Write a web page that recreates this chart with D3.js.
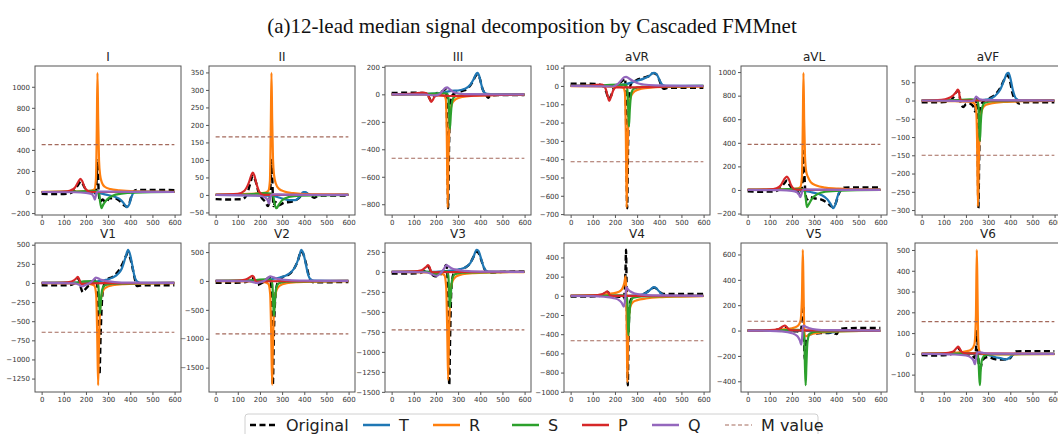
<!DOCTYPE html>
<html><head><meta charset="utf-8">
<script src="https://cdn.jsdelivr.net/npm/d3@7"></script>
<style>body{margin:0;background:#fff}svg{display:block}</style>
</head><body><svg id="c" width="1058" height="434"></svg>
<script>
const chartTitle = "(a)12-lead median signal decomposition by Cascaded FMMnet";
const leads = ["I","II","III","aVR","aVL","aVF","V1","V2","V3","V4","V5","V6"];
const xTicks = [0,100,200,300,400,500,600];
const yTickStep = [200,50,200,100,200,50,250,500,250,200,200,100];
const mValues = [450,166,-465,-414,387,-150,-645,-916,-725,-468,74,155];
const legendNames = ["Original","T","R","S","P","Q","M value"];

const originalPts = [
 [[0,-18],[60,-20],[120,-15],[150,20],[165,70],[178,100],[192,50],[205,5],[225,0],[238,-30],[246,30],[252,300],[258,-20],[265,-90],[275,-70],[290,-100],[305,-60],[330,-60],[355,-90],[375,-130],[385,-140],[395,-110],[405,-40],[415,5],[430,20],[500,20],[599,18]],
 [[0,-12],[60,-13],[120,-12],[140,0],[155,30],[168,55],[180,40],[195,5],[210,-10],[225,-20],[236,-32],[244,-10],[250,60],[253,100],[257,20],[261,-32],[270,-20],[280,-30],[292,-28],[310,-22],[340,-20],[370,-12],[390,0],[405,5],[425,0],[445,-8],[455,-5],[480,-2],[599,-2]],
 [[0,10],[80,12],[130,10],[150,8],[165,-10],[178,-45],[188,-30],[200,5],[220,15],[238,30],[246,35],[251,-300],[255,-829],[259,-400],[264,-80],[272,-10],[290,10],[320,25],[345,45],[365,90],[380,135],[388,145],[398,115],[410,40],[425,0],[435,-25],[445,-10],[480,-5],[599,-5]],
 [[0,12],[60,12],[120,10],[145,0],[160,-30],[172,-70],[182,-55],[195,-10],[215,10],[235,30],[246,40],[251,-250],[255,-668],[259,-350],[264,-60],[272,10],[295,30],[330,45],[355,55],[372,70],[385,65],[398,40],[410,0],[420,-15],[440,-10],[500,-10],[599,-10]],
 [[0,-12],[60,-15],[120,-12],[145,10],[165,55],[178,80],[190,40],[205,5],[222,-5],[236,-40],[244,-10],[249,150],[252,330],[256,150],[261,-30],[268,-80],[280,-60],[300,-70],[330,-80],[360,-110],[378,-140],[388,-145],[398,-110],[410,-40],[422,5],[435,20],[500,22],[599,20]],
 [[0,-5],[60,-5],[120,-3],[145,10],[160,25],[168,25],[176,-5],[188,-18],[200,-10],[215,-8],[232,-15],[242,-30],[248,5],[252,-60],[256,-295],[260,-150],[265,-20],[275,-5],[300,5],[330,15],[355,35],[375,60],[388,70],[398,55],[410,20],[425,0],[440,-8],[455,-5],[500,-5],[599,-5]],
 [[0,-30],[60,-32],[120,-30],[150,0],[163,60],[170,30],[178,-70],[186,-120],[195,-90],[210,-40],[230,-10],[244,50],[250,20],[256,-600],[261,-1200],[266,-700],[272,-250],[280,-40],[295,40],[320,80],[345,150],[365,250],[380,350],[390,390],[398,340],[410,200],[420,60],[430,-40],[445,-35],[500,-30],[599,-30]],
 [[0,-30],[60,-32],[120,-28],[150,5],[163,55],[170,40],[180,-30],[190,-70],[200,-50],[220,-10],[240,60],[248,40],[254,-700],[258,-1805],[263,-900],[270,-250],[280,-30],[300,60],[330,110],[355,220],[372,360],[385,510],[395,470],[408,300],[420,100],[432,-10],[445,-25],[500,-22],[599,-20]],
 [[0,-20],[60,-22],[120,-18],[148,10],[163,65],[170,50],[180,-20],[195,-55],[210,-50],[228,-10],[240,60],[246,85],[251,0],[256,-700],[260,-1417],[264,-800],[270,-200],[280,-20],[300,20],[330,50],[355,110],[372,200],[385,255],[395,220],[408,120],[420,30],[432,-5],[450,-8],[500,0],[599,5]],
 [[0,-7],[60,-8],[120,-5],[150,20],[163,46],[170,35],[180,0],[200,-5],[225,-10],[238,-30],[244,50],[248,300],[250,480],[252,200],[255,-400],[258,-932],[261,-500],[265,-150],[272,-40],[290,-5],[320,10],[345,40],[365,75],[378,85],[390,70],[405,35],[420,20],[450,20],[500,20],[599,20]],
 [[0,0],[60,0],[120,3],[150,15],[165,30],[175,25],[190,0],[210,-5],[225,-5],[238,-20],[244,40],[248,120],[251,200],[254,0],[258,-230],[262,-150],[268,-60],[280,-30],[300,-25],[330,-20],[360,-20],[385,-15],[395,-25],[402,-28],[410,0],[425,15],[450,18],[500,20],[599,20]],
 [[0,-6],[60,-8],[120,-5],[148,10],[163,28],[172,20],[185,0],[205,-3],[228,-8],[240,-20],[246,30],[250,110],[254,20],[259,-60],[265,-70],[272,-40],[285,-20],[300,-15],[330,-25],[360,-28],[385,-25],[398,-22],[410,-5],[425,12],[450,13],[500,13],[599,13]]
];
const tPts = [
 [[0,0],[200,0],[250,-5],[290,-25],[330,-45],[360,-80],[375,-120],[385,-145],[395,-120],[405,-50],[415,-5],[430,5],[480,3],[599,0]],
 [[0,0],[250,-2],[290,-8],[330,-15],[360,-15],[380,-5],[395,8],[405,8],[420,2],[440,0],[599,0]],
 [[0,0],[200,5],[240,15],[270,25],[300,28],[330,40],[355,70],[370,110],[382,150],[388,157],[396,130],[405,70],[415,20],[430,3],[460,0],[599,0]],
 [[0,0],[200,3],[250,10],[290,25],[330,40],[355,55],[370,70],[378,72],[390,60],[402,30],[415,5],[430,0],[599,0]],
 [[0,0],[200,0],[250,-5],[290,-20],[330,-40],[360,-80],[375,-120],[386,-155],[396,-125],[406,-55],[416,-8],[430,3],[480,2],[599,0]],
 [[0,0],[250,0],[300,3],[330,12],[355,30],[372,55],[385,74],[392,76],[400,62],[412,28],[425,6],[445,0],[599,0]],
 [[0,0],[200,5],[250,20],[290,40],[320,70],[345,120],[362,190],[378,330],[390,434],[398,385],[408,250],[418,100],[430,20],[445,2],[599,0]],
 [[0,0],[200,5],[250,30],[290,60],[320,100],[345,170],[362,270],[375,400],[387,540],[395,490],[405,330],[416,130],[428,30],[445,5],[599,0]],
 [[0,0],[200,0],[240,10],[280,20],[310,35],[335,60],[355,110],[370,190],[383,276],[392,262],[402,180],[414,70],[426,15],[445,2],[599,0]],
 [[0,0],[250,0],[300,5],[330,20],[350,45],[365,75],[375,91],[385,82],[398,50],[412,18],[428,3],[450,0],[599,0]],
 [[0,0],[250,0],[300,-5],[340,-12],[370,-15],[390,-12],[400,-8],[410,-3],[430,0],[599,0]],
 [[0,0],[250,0],[300,-5],[330,-15],[360,-22],[380,-27],[395,-20],[408,-8],[420,0],[599,0]]
];
const rPts = [
 [[0,2],[150,5],[220,12],[238,25],[245,120],[249,600],[252,1133],[255,700],[259,300],[264,160],[272,90],[285,50],[310,28],[350,15],[420,6],[599,2]],
 [[0,1],[150,3],[220,6],[238,12],[245,40],[249,200],[252,349],[255,220],[259,100],[264,55],[272,32],[285,18],[310,10],[350,5],[420,2],[599,1]],
 [[0,-1],[150,-3],[220,-6],[238,-12],[245,-40],[249,-300],[253,-825],[256,-500],[260,-250],[266,-110],[275,-60],[290,-35],[320,-18],[370,-10],[450,-5],[599,-2]],
 [[0,-1],[150,-3],[220,-5],[238,-10],[245,-35],[249,-250],[253,-665],[256,-420],[260,-200],[266,-90],[275,-50],[290,-28],[320,-15],[370,-8],[450,-4],[599,-2]],
 [[0,2],[150,5],[220,12],[238,25],[245,110],[249,550],[252,994],[255,600],[259,280],[264,160],[272,110],[285,65],[310,38],[350,20],[400,12],[450,6],[599,2]],
 [[0,-1],[150,-2],[220,-4],[238,-8],[246,-25],[250,-100],[254,-290],[257,-200],[261,-90],[267,-40],[275,-22],[290,-12],[320,-7],[370,-4],[450,-2],[599,-1]],
 [[0,-2],[150,-5],[220,-15],[238,-35],[246,-150],[251,-700],[255,-1337],[258,-900],[262,-450],[268,-200],[276,-110],[290,-60],[320,-30],[370,-15],[450,-8],[599,-3]],
 [[0,-3],[150,-8],[220,-20],[238,-50],[246,-220],[251,-950],[255,-1800],[258,-1200],[262,-600],[268,-280],[276,-150],[290,-80],[320,-40],[370,-20],[450,-10],[599,-4]],
 [[0,-2],[150,-6],[220,-18],[238,-40],[246,-180],[251,-750],[255,-1350],[258,-950],[262,-450],[268,-200],[276,-110],[290,-60],[320,-30],[370,-15],[450,-8],[599,-3]],
 [[0,2],[100,5],[150,12],[190,25],[215,40],[232,70],[242,130],[248,203],[251,50],[254,-500],[256,-900],[259,-500],[263,-220],[270,-110],[282,-65],[300,-45],[340,-28],[400,-15],[500,-8],[599,-4]],
 [[0,1],[100,3],[150,8],[200,18],[225,35],[238,70],[245,250],[249,637],[252,350],[255,50],[259,-40],[265,-45],[275,-35],[295,-25],[330,-15],[380,-8],[450,-4],[599,-2]],
 [[0,1],[100,2],[150,5],[200,12],[225,22],[238,45],[245,180],[249,501],[252,300],[255,80],[259,20],[266,5],[280,0],[300,-2],[350,-3],[450,-2],[599,-1]]
];
const sPts = [
 [[0,0],[150,3],[220,10],[250,8],[258,0],[263,-80],[270,-154],[278,-120],[295,-70],[320,-35],[360,-15],[420,-5],[599,0]],
 [[0,0],[150,2],[220,5],[255,3],[262,-10],[268,-30],[275,-38],[285,-28],[300,-15],[330,-6],[380,-2],[599,0]],
 [[0,0],[150,3],[220,8],[250,6],[256,-20],[260,-150],[263,-250],[267,-150],[273,-50],[285,-15],[320,-5],[599,0]],
 [[0,0],[150,3],[220,8],[250,6],[256,-20],[260,-130],[263,-222],[267,-130],[273,-45],[285,-15],[320,-5],[599,0]],
 [[0,0],[150,3],[220,10],[250,8],[257,0],[262,-70],[268,-145],[275,-125],[290,-75],[315,-35],[350,-15],[420,-5],[599,0]],
 [[0,0],[150,1],[220,3],[252,2],[257,-20],[260,-70],[263,-110],[267,-60],[273,-20],[285,-6],[320,-2],[599,0]],
 [[0,0],[150,5],[190,20],[225,25],[250,15],[256,-40],[260,-250],[263,-400],[267,-250],[273,-90],[285,-30],[320,-10],[599,0]],
 [[0,0],[150,5],[190,20],[225,30],[250,20],[256,-60],[260,-380],[263,-600],[267,-380],[273,-130],[285,-40],[320,-12],[599,0]],
 [[0,0],[150,3],[180,-10],[200,-30],[220,-10],[250,5],[256,-50],[260,-300],[263,-445],[267,-280],[273,-100],[285,-30],[320,-10],[599,0]],
 [[0,0],[150,2],[220,5],[252,3],[256,-60],[259,-300],[261,-410],[264,-250],[270,-80],[282,-20],[320,-5],[599,0]],
 [[0,0],[150,2],[220,5],[250,3],[256,-80],[259,-300],[262,-431],[265,-280],[270,-90],[280,-25],[310,-8],[599,0]],
 [[0,0],[150,1],[220,3],[252,2],[257,-40],[260,-110],[263,-151],[266,-90],[272,-30],[285,-8],[320,-2],[599,0]]
];
const pPts = [
 [[0,0],[100,5],[130,15],[150,40],[165,95],[175,125],[183,105],[193,50],[205,15],[220,2],[300,0],[599,0]],
 [[0,0],[100,3],[130,12],[150,35],[162,58],[168,64],[175,55],[185,30],[198,8],[215,0],[599,0]],
 [[0,0],[100,5],[140,12],[158,8],[168,-20],[178,-55],[186,-40],[196,-12],[210,-8],[260,-12],[320,-12],[400,-8],[500,-4],[599,-2]],
 [[0,0],[100,3],[140,8],[158,-15],[168,-60],[174,-82],[182,-60],[192,-25],[205,-8],[260,-8],[350,-6],[450,-3],[599,-1]],
 [[0,0],[100,5],[130,15],[150,40],[165,90],[177,113],[185,95],[195,45],[207,12],[222,2],[300,0],[599,0]],
 [[0,0],[90,2],[120,6],[140,13],[155,22],[163,30],[168,26],[173,5],[180,0],[599,0]],
 [[0,0],[100,5],[135,20],[155,55],[163,80],[168,60],[174,10],[182,-15],[195,-10],[230,-5],[300,-3],[599,0]],
 [[0,0],[100,5],[135,25],[155,65],[166,90],[172,70],[178,15],[186,-15],[200,-10],[240,-5],[320,-3],[599,0]],
 [[0,0],[100,5],[135,20],[155,60],[165,84],[171,60],[177,10],[185,-5],[200,-5],[240,-3],[320,-2],[599,0]],
 [[0,0],[100,4],[140,15],[158,38],[165,46],[171,30],[177,5],[190,0],[599,0]],
 [[0,0],[100,3],[140,12],[158,32],[168,40],[175,30],[185,10],[200,2],[599,0]],
 [[0,0],[100,2],[140,10],[158,28],[165,35],[172,25],[182,8],[198,2],[599,0]]
];
const qPts = [
 [[0,0],[150,-2],[200,-8],[225,-20],[235,-45],[240,-72],[244,-40],[248,-5],[255,5],[300,3],[599,0]],
 [[0,0],[150,-1],[200,-3],[225,-8],[235,-15],[241,-25],[245,-12],[249,-2],[255,2],[300,1],[599,0]],
 [[0,0],[150,-2],[195,-8],[215,0],[230,25],[243,48],[250,50],[260,40],[275,20],[295,8],[330,2],[599,0]],
 [[0,0],[150,-2],[190,-3],[210,8],[228,30],[242,48],[250,50],[262,42],[280,28],[300,16],[330,8],[380,3],[599,0]],
 [[0,0],[150,-2],[200,-8],[222,-20],[232,-40],[238,-60],[243,-35],[248,-5],[255,5],[300,3],[599,0]],
 [[0,0],[150,-1],[220,-2],[238,2],[246,11],[252,8],[262,3],[290,1],[599,0]],
 [[0,0],[150,-5],[170,-25],[182,-45],[195,-30],[215,-5],[232,35],[245,70],[255,60],[270,40],[295,25],[330,12],[400,4],[599,0]],
 [[0,0],[150,-5],[170,-20],[185,-35],[198,-25],[218,0],[235,50],[247,82],[257,70],[272,45],[295,28],[330,14],[400,5],[599,0]],
 [[0,0],[150,-5],[175,-20],[195,-45],[205,-50],[218,-25],[232,20],[243,70],[248,84],[256,70],[270,45],[295,25],[330,12],[400,4],[599,0]],
 [[0,0],[100,-3],[150,-10],[190,-22],[215,-40],[230,-70],[240,-112],[245,-60],[249,40],[252,91],[258,70],[270,45],[290,25],[320,12],[370,5],[599,0]],
 [[0,0],[100,-2],[150,-6],[200,-20],[225,-45],[236,-80],[242,-111],[246,-50],[250,35],[254,40],[262,30],[280,18],[310,8],[360,3],[599,0]],
 [[0,0],[150,-3],[200,-8],[225,-20],[235,-35],[240,-50],[245,-25],[250,5],[258,8],[280,4],[320,1],[599,0]]
];

// ---- layout / style ----
const colLeft = [35, 209, 385, 564, 741, 915];
const rowTop = [66, 243];
const boxW = 146, boxH = 149;
const colors = {Original:"#000000", T:"#1f77b4", R:"#ff7f0e", S:"#2ca02c", P:"#d62728", Q:"#9467bd", M:"#a46a5c"};
const compSeries = [["T",tPts],["R",rPts],["S",sPts],["P",pPts],["Q",qPts]];

const svg = d3.select("#c");
svg.append("text").attr("x", 532).attr("y", 33).attr("text-anchor","middle")
  .style("font-family","'Liberation Serif','Times New Roman',serif").style("font-size","21px")
  .attr("fill","#111").text(chartTitle);

const defs = svg.append("defs");
const tickFont = "'DejaVu Sans', sans-serif";
const fmt = d => d3.format("")(d).replace("-", "\u2212");

leads.forEach((lead, i) => {
  const col = i % 6, row = Math.floor(i / 6);
  const x0 = colLeft[col], y0 = rowTop[row];
  const allY = [originalPts[i], tPts[i], rPts[i], sPts[i], pPts[i], qPts[i]].flat().map(d => d[1]).concat([mValues[i]]);
  const ext = d3.extent(allY), pad = (ext[1] - ext[0]) * 0.05;
  const x = d3.scaleLinear().domain([-29.95, 628.95]).range([x0, x0 + boxW]);
  const y = d3.scaleLinear().domain([ext[0] - pad, ext[1] + pad]).range([y0 + boxH, y0]);
  const g = svg.append("g");
  const cid = "clip" + i;
  defs.append("clipPath").attr("id", cid).append("rect").attr("x", x0).attr("y", y0).attr("width", boxW).attr("height", boxH);

  const st = yTickStep[i];
  const yt = d3.range(Math.ceil(y.domain()[0] / st) * st, y.domain()[1] + 1e-6, st);
  const yAxis = g.append("g").attr("transform", `translate(${x0},0)`)
    .call(d3.axisLeft(y).tickValues(yt).tickFormat(fmt).tickSize(3).tickPadding(2));
  const xAxis = g.append("g").attr("transform", `translate(0,${y0 + boxH})`)
    .call(d3.axisBottom(x).tickValues(xTicks).tickFormat(fmt).tickSize(3).tickPadding(2));
  [yAxis, xAxis].forEach(a => {
    a.select(".domain").remove();
    a.selectAll("line").attr("stroke", "#555");
    a.selectAll("text").style("font-family", tickFont).style("font-size", "7px").attr("fill", "#333");
  });

  const line = d3.line().x(d => x(d[0])).y(d => y(d[1])).curve(d3.curveMonotoneX);
  const pg = g.append("g").attr("clip-path", `url(#${cid})`);
  pg.append("path").attr("d", line(originalPts[i])).attr("fill", "none")
    .attr("stroke", colors.Original).attr("stroke-width", 2.4).attr("stroke-dasharray", "6,3.5");
  compSeries.forEach(([name, arr]) => {
    pg.append("path").attr("d", line(arr[i])).attr("fill", "none")
      .attr("stroke", colors[name]).attr("stroke-width", 2.2).attr("stroke-linejoin", "round");
  });
  pg.append("path").attr("d", line([[0, mValues[i]], [599, mValues[i]]])).attr("fill", "none")
    .attr("stroke", colors.M).attr("stroke-width", 1.1).attr("stroke-dasharray", "4,2.5");

  g.append("rect").attr("x", x0).attr("y", y0).attr("width", boxW).attr("height", boxH)
    .attr("fill", "none").attr("stroke", "#555").attr("stroke-width", 1);
  g.append("text").attr("x", x0 + boxW / 2).attr("y", y0 - 5).attr("text-anchor", "middle")
    .style("font-family", tickFont).style("font-size", "12px").attr("fill", "#222").text(lead);
});

// legend
const legX = [250, 363, 433, 512, 582, 652, 725];
const legKeys = ["Original","T","R","S","P","Q","M"];
const lg = svg.append("g");
lg.append("rect").attr("x", 245).attr("y", 414).attr("width", 573).attr("height", 40).attr("rx", 3)
  .attr("fill", "#fff").attr("stroke", "#d0d0d0").attr("stroke-width", 1);
legKeys.forEach((k, j) => {
  const ln = lg.append("line").attr("x1", legX[j]).attr("x2", legX[j] + 27).attr("y1", 425).attr("y2", 425)
    .attr("stroke", colors[k]);
  if (k === "Original") ln.attr("stroke-width", 2.5).attr("stroke-dasharray", "6,3.5");
  else if (k === "M") ln.attr("stroke-width", 1.1).attr("stroke-dasharray", "4,2.5");
  else ln.attr("stroke-width", 2.5);
  lg.append("text").attr("x", legX[j] + 36).attr("y", 431)
    .style("font-family", tickFont).style("font-size", "16px").attr("fill", "#222").text(legendNames[j]);
});
</script></body></html>
